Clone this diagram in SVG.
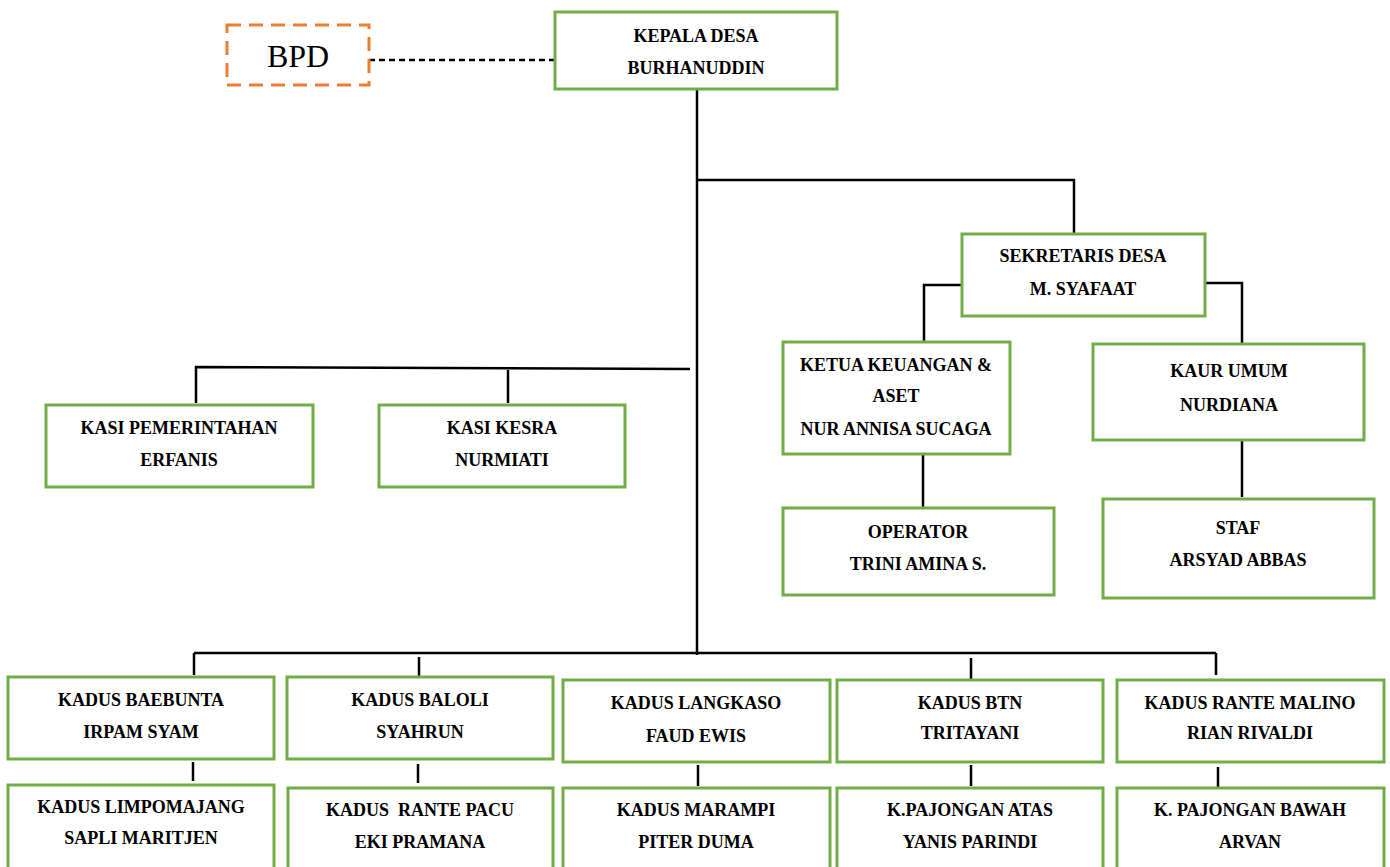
<svg xmlns="http://www.w3.org/2000/svg" width="1390" height="867" viewBox="0 0 1390 867">
<style>
.box{fill:#fff;stroke:#70ad47;stroke-width:3}
.t{font-family:"Liberation Serif","Times New Roman",serif;font-weight:bold;font-size:18px;text-anchor:middle;fill:#000}
.ln{stroke:#000;stroke-width:2.5;fill:none}
</style>
<rect width="1390" height="867" fill="#fff"/>
<g id="connectors">
<line class="ln" x1="369" y1="60" x2="555" y2="60" stroke-dasharray="6,4"/>
<polyline class="ln" points="697,89 697,655"/>
<polyline class="ln" points="697,180 1074,180 1074,234"/>
<polyline class="ln" points="962,285 924,285 924,342"/>
<polyline class="ln" points="1205,283 1242,283 1242,344"/>
<line class="ln" x1="923" y1="454" x2="923" y2="508"/>
<line class="ln" x1="1242" y1="440" x2="1242" y2="497"/>
<polyline class="ln" points="196,403 196,367 690,369"/>
<line class="ln" x1="508" y1="370" x2="508" y2="403"/>
<line class="ln" x1="194" y1="653" x2="1216" y2="653"/>
<line class="ln" x1="194" y1="653" x2="194" y2="675"/>
<line class="ln" x1="419" y1="657" x2="419" y2="677"/>
<line class="ln" x1="971" y1="658" x2="971" y2="679"/>
<line class="ln" x1="1216" y1="653" x2="1216" y2="675"/>
<line class="ln" x1="193" y1="762" x2="193" y2="781"/>
<line class="ln" x1="418" y1="764" x2="418" y2="783"/>
<line class="ln" x1="698" y1="765" x2="698" y2="786"/>
<line class="ln" x1="971" y1="765" x2="971" y2="786"/>
<line class="ln" x1="1218" y1="767" x2="1218" y2="787"/>
</g>
<g id="bpd">
<rect x="227" y="25" width="142" height="60" fill="#fff" stroke="#ed7d31" stroke-width="3" stroke-dasharray="14,8"/>
<text x="298" y="67" font-family="Liberation Serif,Times New Roman,serif" font-size="32" text-anchor="middle">BPD</text>
</g>
<g id="kepala">
<rect class="box" x="555" y="12" width="282" height="77"/>
<text class="t" x="696" y="42">KEPALA DESA</text>
<text class="t" x="696" y="74">BURHANUDDIN</text>
</g>
<g id="sekretaris">
<rect class="box" x="962" y="234" width="243" height="82"/>
<text class="t" x="1083" y="262">SEKRETARIS DESA</text>
<text class="t" x="1083" y="295">M. SYAFAAT</text>
</g>
<g id="keuangan">
<rect class="box" x="783" y="342" width="227" height="112"/>
<text class="t" x="896" y="371">KETUA KEUANGAN &amp;</text>
<text class="t" x="896" y="402">ASET</text>
<text class="t" x="896" y="435">NUR ANNISA SUCAGA</text>
</g>
<g id="kaurumum">
<rect class="box" x="1093" y="344" width="271" height="96"/>
<text class="t" x="1229" y="377">KAUR UMUM</text>
<text class="t" x="1229" y="411">NURDIANA</text>
</g>
<g id="operator">
<rect class="box" x="783" y="508" width="271" height="87"/>
<text class="t" x="918" y="538">OPERATOR</text>
<text class="t" x="918" y="570">TRINI AMINA S.</text>
</g>
<g id="staf">
<rect class="box" x="1103" y="499" width="271" height="99"/>
<text class="t" x="1238" y="534">STAF</text>
<text class="t" x="1238" y="566">ARSYAD ABBAS</text>
</g>
<g id="kasipem">
<rect class="box" x="46" y="405" width="267" height="82"/>
<text class="t" x="179" y="434">KASI PEMERINTAHAN</text>
<text class="t" x="179" y="466">ERFANIS</text>
</g>
<g id="kasikesra">
<rect class="box" x="379" y="405" width="246" height="82"/>
<text class="t" x="502" y="434">KASI KESRA</text>
<text class="t" x="502" y="466">NURMIATI</text>
</g>
<g id="baebunta">
<rect class="box" x="8" y="677" width="266" height="82"/>
<text class="t" x="141" y="706">KADUS BAEBUNTA</text>
<text class="t" x="141" y="738">IRPAM SYAM</text>
</g>
<g id="baloli">
<rect class="box" x="287" y="677" width="266" height="82"/>
<text class="t" x="420" y="706">KADUS BALOLI</text>
<text class="t" x="420" y="738">SYAHRUN</text>
</g>
<g id="langkaso">
<rect class="box" x="563" y="680" width="267" height="82"/>
<text class="t" x="696" y="709">KADUS LANGKASO</text>
<text class="t" x="696" y="742">FAUD EWIS</text>
</g>
<g id="btn">
<rect class="box" x="837" y="680" width="266" height="82"/>
<text class="t" x="970" y="709">KADUS BTN</text>
<text class="t" x="970" y="739">TRITAYANI</text>
</g>
<g id="rantemalino">
<rect class="box" x="1117" y="680" width="267" height="82"/>
<text class="t" x="1250" y="709">KADUS RANTE MALINO</text>
<text class="t" x="1250" y="739">RIAN RIVALDI</text>
</g>
<g id="limpomajang">
<rect class="box" x="8" y="785" width="266" height="95"/>
<text class="t" x="141" y="813">KADUS LIMPOMAJANG</text>
<text class="t" x="141" y="844">SAPLI MARITJEN</text>
</g>
<g id="rantepacu">
<rect class="box" x="288" y="788" width="265" height="95"/>
<text class="t" x="420" y="816" xml:space="preserve">KADUS  RANTE PACU</text>
<text class="t" x="420" y="848">EKI PRAMANA</text>
</g>
<g id="marampi">
<rect class="box" x="563" y="788" width="267" height="95"/>
<text class="t" x="696" y="816">KADUS MARAMPI</text>
<text class="t" x="696" y="848">PITER DUMA</text>
</g>
<g id="pajonganatas">
<rect class="box" x="837" y="788" width="266" height="95"/>
<text class="t" x="970" y="816">K.PAJONGAN ATAS</text>
<text class="t" x="970" y="848">YANIS PARINDI</text>
</g>
<g id="pajonganbawah">
<rect class="box" x="1117" y="788" width="267" height="95"/>
<text class="t" x="1250" y="816">K. PAJONGAN BAWAH</text>
<text class="t" x="1250" y="848">ARVAN</text>
</g>
</svg>
